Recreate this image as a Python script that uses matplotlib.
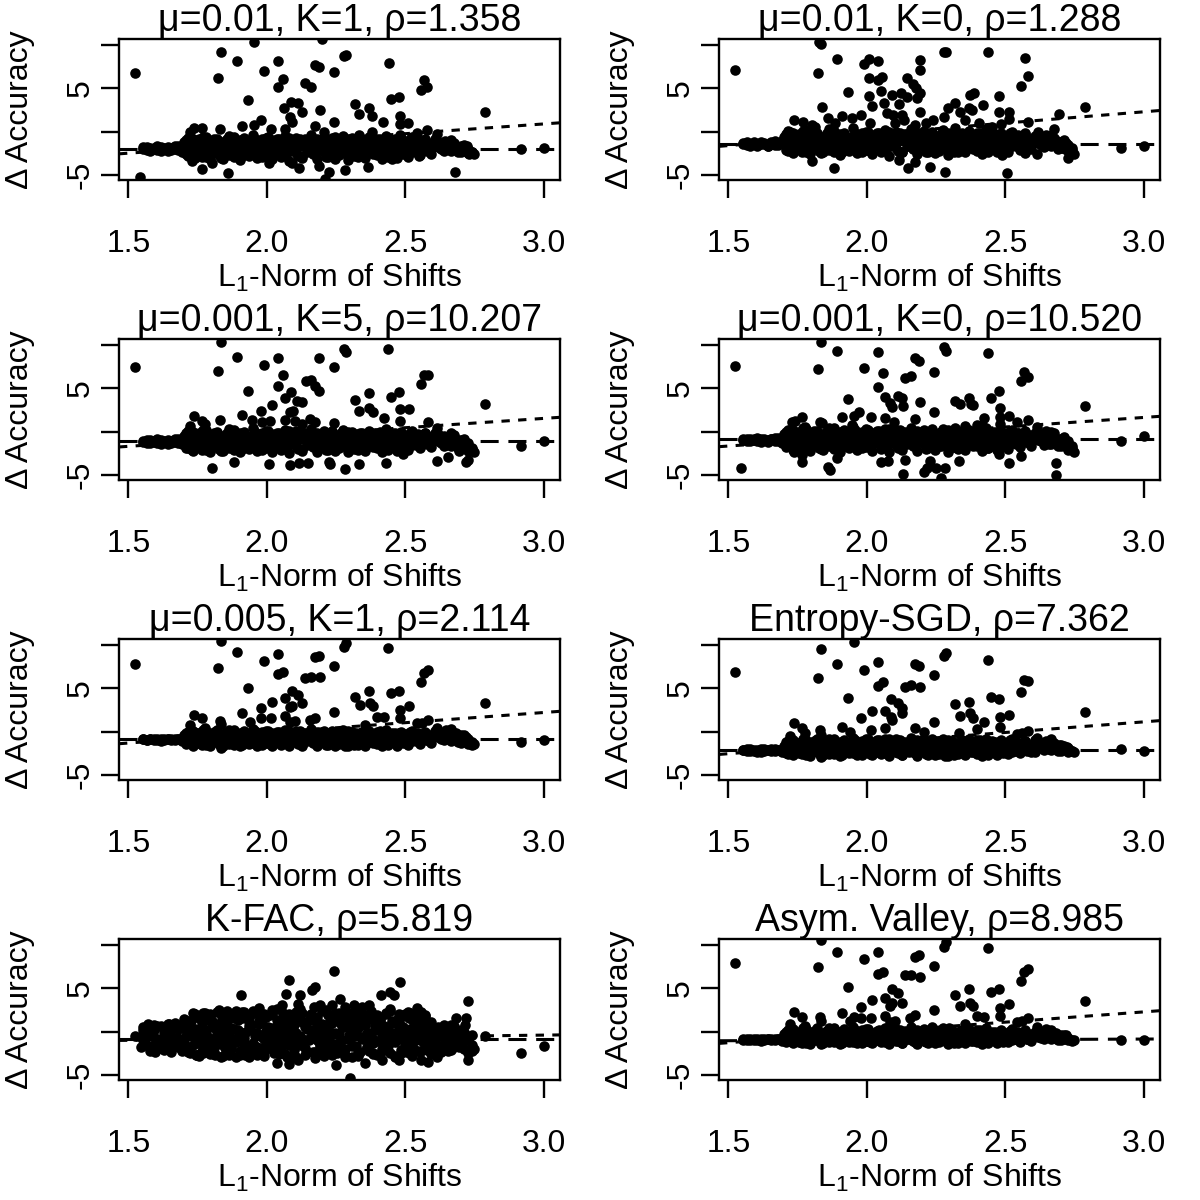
import matplotlib
matplotlib.use("Agg")
import matplotlib.pyplot as plt

plt.rcParams['font.family'] = ['Liberation Sans', 'DejaVu Sans']
plt.rcParams['mathtext.default'] = 'regular'
plt.rcParams['lines.scale_dashes'] = False

TITLES = ["μ=0.01, K=1, ρ=1.358", "μ=0.01, K=0, ρ=1.288",
          "μ=0.001, K=5, ρ=10.207", "μ=0.001, K=0, ρ=10.520",
          "μ=0.005, K=1, ρ=2.114", "Entropy-SGD, ρ=7.362",
          "K-FAC, ρ=5.819", "Asym. Valley, ρ=8.985"]
XTICKS = [1.5, 2.0, 2.5, 3.0]
XTICKLABELS = ['1.5', '2.0', '2.5', '3.0']
YTICKS = [-5, 0, 5, 10]
YTICKLABELS = ['-5', '', '5', '']
XLABEL = 'L$_1$-Norm of Shifts'
YLABEL = 'Δ Accuracy'

# x positions of the dense band of points (shared by all panels)
BAND_X = [1.553, 1.566, 1.579, 1.591, 1.604, 1.617, 1.629, 1.642, 1.655, 1.667, 1.680, 1.692,
          1.701, 1.709, 1.716, 1.724, 1.733, 1.740, 1.748, 1.755, 1.764, 1.771,
          1.779, 1.787, 1.794, 1.802, 1.810, 1.818, 1.826, 1.833, 1.841, 1.849,
          1.857, 1.864, 1.872, 1.880, 1.888, 1.895, 1.903, 1.911, 1.919, 1.926,
          1.934, 1.942, 1.950, 1.957, 1.965, 1.973, 1.981, 1.988, 1.996, 2.004,
          2.012, 2.019, 2.027, 2.035, 2.043, 2.050, 2.058, 2.066, 2.074, 2.081,
          2.089, 2.097, 2.105, 2.112, 2.120, 2.128, 2.136, 2.143, 2.151, 2.159,
          2.167, 2.174, 2.182, 2.190, 2.198, 2.205, 2.213, 2.221, 2.229, 2.236,
          2.244, 2.252, 2.260, 2.267, 2.275, 2.283, 2.291, 2.298, 2.306, 2.314,
          2.322, 2.329, 2.337, 2.345, 2.353, 2.360, 2.368, 2.376, 2.384, 2.391,
          2.399, 2.407, 2.415, 2.422, 2.430, 2.438, 2.446, 2.453, 2.461, 2.469,
          2.477, 2.484, 2.492, 2.500, 2.508, 2.515, 2.523, 2.531, 2.539, 2.546,
          2.554, 2.562, 2.570, 2.577, 2.585, 2.593,
          2.606, 2.618, 2.629, 2.641, 2.652, 2.664, 2.676, 2.688, 2.700, 2.712, 2.725, 2.740]

BAND_P1 = [-1.8, -2.1, -1.9, -2.0, -1.7, -2.2, -1.9, -1.8, -2.1, -2.0, -1.6, -2.3,
           -1.2, -2.6, -0.7, -1.9, -3.0, -1.5, -2.3, -0.9, -2.9, -1.7,
           -0.6, -2.4, -3.2, -1.3, -2.0, -0.8, -2.7, -1.6, -3.1, -1.1,
           -2.2, -0.5, -1.8, -2.9, -1.0, -2.5, -3.3, -1.4, -0.7, -2.1,
           -2.8, -1.2, -0.4, -1.9, -3.0, -2.4, -0.9, -1.6, -2.7, -0.6,
           -1.5, -3.1, -2.2, -0.8, -1.8, -2.9, -1.1, -0.5, -2.5, -3.4,
           -1.3, -2.0, -0.7, -2.8, -1.6, -3.0, -0.9, -2.3, -1.4, -0.4,
           -2.6, -1.8, -3.2, -1.0, -2.1, -0.6, -2.9, -1.5, -2.4, -0.8,
           -3.1, -1.7, -1.1, -2.5, -0.5, -2.0, -3.3, -1.3, -0.7, -2.7,
           -1.9, -2.9, -0.9, -1.5, -3.0, -2.2, -0.6, -1.8, -2.6, -1.2,
           -0.8, -2.4, -3.2, -1.6, -0.5, -2.8, -1.4, -2.1, -0.9, -3.0,
           -1.7, -0.7, -2.5, -1.2, -2.9, -2.0, -0.6, -1.5, -2.3, -1.0,
           -2.7, -1.4, -0.8, -2.1, -1.8, -2.6,
           -0.9, -1.8, -1.3, -2.2, -1.6, -1.0, -2.0, -2.4, -1.7, -2.1, -2.5, -2.3]
BAND_P1B = [-2.0, -1.8, -2.2, -1.9, -2.1, -1.8, -2.0, -2.2, -1.9, -1.7, -2.1, -1.9,
            -2.0, -1.0, -2.8, -1.4, -0.8, -2.2, -1.1, -2.6, -1.8, -0.6,
            -2.9, -1.2, -1.9, -2.5, -0.9, -1.6, -2.3, -3.0, -1.3, -2.0,
            -0.9, -2.7, -1.5, -0.6, -2.2, -1.7, -1.0, -2.8, -2.3, -1.3,
            -1.6, -2.1, -2.6, -0.8, -1.2, -2.0, -2.9, -1.4, -0.7, -2.4,
            -2.7, -1.0, -1.5, -2.3, -0.9, -2.0, -1.3, -2.6, -1.8, -0.7,
            -2.1, -1.1, -2.5, -1.7, -0.8, -2.8, -1.4, -1.9, -2.2, -1.0,
            -1.3, -2.6, -0.9, -2.0, -1.6, -2.4, -1.1, -2.9, -1.8, -0.7,
            -2.2, -1.4, -2.7, -1.0, -1.7, -2.5, -0.8, -2.1, -1.5, -2.8,
            -1.2, -2.3, -1.9, -0.9, -2.6, -1.6, -1.1, -2.4, -2.0, -1.3,
            -2.7, -0.8, -1.8, -2.2, -1.2, -2.9, -1.5, -1.0, -2.4, -1.9,
            -1.1, -2.2, -2.6, -1.4, -1.8, -0.9, -2.3, -1.6, -2.0, -1.2,
            -2.5, -1.7, -1.0, -2.2, -1.4, -2.0,
            -1.5, -1.2, -2.0, -1.4, -1.9, -2.2, -1.3, -1.8, -2.3, -1.5, -2.0, -2.4]

BAND_P2 = [-1.3, -1.5, -1.4, -1.2, -1.6, -1.4, -1.3, -1.7, -1.2, -1.5, -1.4, -1.1,
           -0.6, -2.1, 0.1, -1.4, -2.5, -0.9, -1.8, -0.3, -2.3, -1.1,
           0.2, -1.7, -2.6, -0.7, -1.3, -0.1, -2.2, -1.0, -2.4, -0.5,
           -1.6, 0.3, -1.2, -2.3, -0.4, -1.9, -2.7, -0.8, -0.1, -1.5,
           -2.2, -0.6, 0.4, -1.3, -2.5, -1.8, -0.2, -1.0, -2.1, 0.0,
           -0.9, -2.6, -1.6, -0.2, -1.2, -2.3, -0.5, 0.2, -1.9, -2.8,
           -0.7, -1.4, 0.0, -2.2, -1.0, -2.4, -0.3, -1.7, -0.8, 0.3,
           -2.0, -1.2, -2.6, -0.4, -1.5, 0.1, -2.3, -0.9, -1.8, -0.2,
           -2.5, -1.1, -0.5, -1.9, 0.2, -1.4, -2.7, -0.7, -0.1, -2.1,
           -1.3, -2.3, -0.3, -0.9, -2.4, -1.6, 0.1, -1.2, -2.0, -0.6,
           -0.2, -1.8, -2.6, -1.0, 0.3, -2.2, -0.8, -1.5, -0.3, -2.4,
           -1.1, -0.1, -1.9, -0.6, -2.3, -1.4, 0.0, -0.9, -1.7, -0.4,
           -2.1, -0.8, -0.2, -1.5, -1.2, -2.0,
           -0.5, -1.3, -0.9, -1.8, -1.1, -0.4, -1.5, -2.0, -1.2, -1.6, -2.2, -1.9]
BAND_P2B = [-1.4, -1.2, -1.6, -1.3, -1.5, -1.2, -1.4, -1.6, -1.3, -1.1, -1.5, -1.3,
            -1.3, -0.3, -2.2, -0.8, -0.1, -1.6, -0.4, -2.0, -1.2, 0.1,
            -2.4, -0.6, -1.4, -1.9, -0.2, -1.0, -1.7, -2.5, -0.7, -1.4,
            -0.2, -2.1, -0.9, 0.1, -1.6, -1.1, -0.3, -2.3, -1.8, -0.6,
            -1.0, -1.5, -2.0, -0.1, -0.5, -1.3, -2.4, -0.8, 0.0, -1.8,
            -2.2, -0.4, -0.9, -1.7, -0.2, -1.4, -0.6, -2.0, -1.2, 0.0,
            -1.5, -0.4, -1.9, -1.1, -0.1, -2.3, -0.8, -1.3, -1.6, -0.3,
            -0.6, -2.0, -0.2, -1.4, -1.0, -1.8, -0.4, -2.4, -1.2, 0.0,
            -1.6, -0.8, -2.2, -0.3, -1.1, -1.9, -0.1, -1.5, -0.9, -2.3,
            -0.5, -1.7, -1.3, -0.2, -2.0, -1.0, -0.4, -1.8, -1.4, -0.6,
            -2.2, -0.1, -1.2, -1.6, -0.5, -2.4, -0.9, -0.3, -1.8, -1.3,
            -0.4, -1.6, -2.0, -0.8, -1.2, -0.2, -1.7, -1.0, -1.4, -0.5,
            -1.9, -1.1, -0.3, -1.6, -0.8, -1.4,
            -0.9, -0.6, -1.5, -0.8, -1.3, -1.7, -0.7, -1.2, -1.9, -1.0, -1.5, -2.1]

BAND_P3 = [-1.1, -1.3, -1.0, -1.2, -0.9, -1.4, -1.1, -1.0, -1.3, -1.2, -0.8, -1.4,
           -0.5, -1.9, 0.1, -1.2, -2.2, -0.8, -1.6, -0.2, -2.0, -1.0,
           0.2, -1.5, -2.3, -0.6, -1.1, 0.0, -2.0, -0.9, -2.2, -0.4,
           -1.4, 0.3, -1.0, -2.1, -0.3, -1.7, -2.4, -0.7, 0.0, -1.3,
           -2.0, -0.5, 0.4, -1.2, -2.2, -1.6, -0.1, -0.9, -1.9, 0.1,
           -0.8, -2.3, -1.4, -0.1, -1.1, -2.1, -0.4, 0.2, -1.7, -2.5,
           -0.6, -1.3, 0.1, -2.0, -0.9, -2.2, -0.2, -1.5, -0.7, 0.3,
           -1.8, -1.0, -2.3, -0.3, -1.4, 0.1, -2.1, -0.8, -1.6, -0.1,
           -2.2, -1.0, -0.4, -1.7, 0.2, -1.2, -2.4, -0.6, 0.0, -1.9,
           -1.2, -2.1, -0.2, -0.8, -2.2, -1.4, 0.1, -1.1, -1.8, -0.5,
           -0.1, -1.6, -2.3, -0.9, 0.3, -2.0, -0.7, -1.3, -0.2, -2.2,
           -1.0, 0.0, -1.7, -0.5, -2.1, -1.2, 0.1, -0.8, -1.5, -0.3,
           -1.9, -0.7, -0.1, -1.3, -1.0, -1.8,
           -0.2, -1.1, -0.6, -1.7, -0.9, -0.1, -1.4, -1.9, -1.0, -1.5, -2.2, -2.0]
BAND_P3B = [-1.2, -1.0, -1.3, -1.1, -1.3, -1.0, -1.2, -1.4, -1.1, -0.9, -1.3, -1.1,
            -1.1, -0.2, -1.9, -0.6, 0.0, -1.4, -0.3, -1.8, -1.0, 0.2,
            -2.1, -0.5, -1.2, -1.7, -0.1, -0.8, -1.5, -2.2, -0.6, -1.2,
            -0.1, -1.9, -0.7, 0.2, -1.4, -0.9, -0.2, -2.0, -1.6, -0.5,
            -0.8, -1.3, -1.8, 0.0, -0.4, -1.1, -2.1, -0.6, 0.1, -1.6,
            -1.9, -0.3, -0.7, -1.5, -0.1, -1.2, -0.5, -1.8, -1.0, 0.1,
            -1.3, -0.3, -1.7, -0.9, 0.0, -2.0, -0.6, -1.1, -1.4, -0.2,
            -0.5, -1.8, -0.1, -1.2, -0.8, -1.6, -0.3, -2.1, -1.0, 0.1,
            -1.4, -0.6, -1.9, -0.2, -0.9, -1.7, 0.0, -1.3, -0.7, -2.0,
            -0.4, -1.5, -1.1, -0.1, -1.8, -0.8, -0.3, -1.6, -1.2, -0.5,
            -1.9, 0.0, -1.0, -1.4, -0.4, -2.1, -0.7, -0.2, -1.6, -1.1,
            -0.3, -1.4, -1.8, -0.6, -1.0, -0.1, -1.5, -0.8, -1.2, -0.4,
            -1.7, -0.9, -0.2, -1.4, -0.6, -1.2,
            -0.6, -0.3, -1.3, -0.5, -1.1, -1.6, -0.4, -1.0, -1.8, -0.8, -1.3, -1.9]

BAND_P4 = [-0.9, -1.1, -0.8, -1.0, -0.7, -1.2, -0.9, -1.0, -0.8, -1.1, -0.7, -1.3,
           -0.3, -1.8, 0.2, -1.0, -2.1, -0.6, -1.5, 0.0, -1.9, -0.8,
           0.3, -1.3, -2.2, -0.4, -1.0, 0.1, -1.9, -0.7, -2.1, -0.2,
           -1.2, 0.4, -0.8, -2.0, -0.1, -1.6, -2.3, -0.5, 0.2, -1.1,
           -1.9, -0.3, 0.5, -1.0, -2.1, -1.5, 0.0, -0.7, -1.8, 0.2,
           -0.6, -2.2, -1.2, 0.1, -0.9, -2.0, -0.2, 0.3, -1.6, -2.4,
           -0.4, -1.1, 0.2, -1.9, -0.7, -2.1, 0.0, -1.4, -0.5, 0.4,
           -1.7, -0.8, -2.2, -0.1, -1.2, 0.2, -2.0, -0.6, -1.5, 0.1,
           -2.1, -0.9, -0.2, -1.6, 0.3, -1.0, -2.3, -0.4, 0.1, -1.8,
           -1.0, -2.0, 0.0, -0.6, -2.1, -1.3, 0.2, -0.9, -1.7, -0.3,
           0.1, -1.5, -2.2, -0.7, 0.4, -1.9, -0.5, -1.2, 0.0, -2.1,
           -0.8, 0.1, -1.6, -0.3, -2.0, -1.1, 0.2, -0.6, -1.4, -0.1,
           -1.8, -0.5, 0.1, -1.2, -0.9, -1.7,
           -0.1, -1.0, -0.5, -1.5, -0.8, 0.0, -1.2, -1.7, -0.9, -1.3, -2.0, -1.9]
BAND_P4B = [-1.0, -0.8, -1.1, -0.9, -1.1, -0.8, -1.0, -1.2, -0.9, -0.7, -1.1, -0.9,
            -0.9, 0.0, -1.7, -0.4, 0.2, -1.2, -0.1, -1.6, -0.8, 0.4,
            -1.9, -0.3, -1.0, -1.5, 0.1, -0.6, -1.3, -2.0, -0.4, -1.0,
            0.1, -1.7, -0.5, 0.4, -1.2, -0.7, 0.0, -1.8, -1.4, -0.3,
            -0.6, -1.1, -1.6, 0.2, -0.2, -0.9, -1.9, -0.4, 0.3, -1.4,
            -1.7, -0.1, -0.5, -1.3, 0.1, -1.0, -0.3, -1.6, -0.8, 0.3,
            -1.1, -0.1, -1.5, -0.7, 0.2, -1.8, -0.4, -0.9, -1.2, 0.0,
            -0.3, -1.6, 0.1, -1.0, -0.6, -1.4, -0.1, -1.9, -0.8, 0.3,
            -1.2, -0.4, -1.7, 0.0, -0.7, -1.5, 0.2, -1.1, -0.5, -1.8,
            -0.2, -1.3, -0.9, 0.1, -1.6, -0.6, -0.1, -1.4, -1.0, -0.3,
            -1.7, 0.2, -0.8, -1.2, -0.2, -1.9, -0.5, 0.0, -1.4, -0.9,
            -0.1, -1.2, -1.6, -0.4, -0.8, 0.1, -1.3, -0.6, -1.0, -0.2,
            -1.5, -0.7, 0.0, -1.2, -0.4, -1.0,
            -0.4, -0.1, -1.1, -0.3, -0.9, -1.4, -0.2, -0.8, -1.6, -0.6, -1.1, -1.7]

BAND_P5 = [-0.9, -1.0, -0.8, -1.0, -0.9, -1.1, -0.8, -0.9, -1.0, -0.8, -0.9, -1.1,
           -0.4, -1.4, 0.0, -0.9, -1.6, -0.6, -1.2, -0.1, -1.5, -0.7,
           0.1, -1.1, -1.7, -0.3, -0.8, 0.2, -1.4, -0.6, -1.6, -0.2,
           -1.0, 0.2, -0.7, -1.5, -0.1, -1.2, -1.7, -0.4, 0.1, -0.9,
           -1.4, -0.3, 0.3, -0.8, -1.6, -1.1, 0.0, -0.5, -1.3, 0.1,
           -0.6, -1.6, -1.0, 0.0, -0.7, -1.5, -0.2, 0.2, -1.2, -1.7,
           -0.4, -0.9, 0.1, -1.4, -0.6, -1.6, -0.1, -1.1, -0.5, 0.3,
           -1.3, -0.7, -1.7, -0.1, -1.0, 0.1, -1.5, -0.5, -1.2, 0.0,
           -1.6, -0.8, -0.2, -1.2, 0.2, -0.9, -1.7, -0.4, 0.0, -1.4,
           -0.8, -1.5, -0.1, -0.5, -1.6, -1.0, 0.1, -0.7, -1.3, -0.3,
           0.0, -1.1, -1.7, -0.6, 0.2, -1.4, -0.4, -1.0, -0.1, -1.6,
           -0.7, 0.0, -1.2, -0.3, -1.5, -0.9, 0.1, -0.5, -1.1, -0.2,
           -1.4, -0.4, 0.0, -1.0, -0.7, -1.3,
           0.1, -0.6, -0.2, -1.0, -0.5, 0.3, -0.8, -1.2, -0.4, -0.9, -1.4, -1.5]
BAND_P5B = [-0.9, -1.0, -0.9, -0.8, -1.0, -0.9, -1.0, -0.8, -0.9, -1.0, -0.9, -1.0,
            -0.8, -0.1, -1.3, -0.4, 0.1, -1.0, -0.2, -1.3, -0.7, 0.2,
            -1.5, -0.3, -0.9, -1.2, 0.0, -0.6, -1.1, -1.6, -0.4, -0.9,
            0.0, -1.4, -0.5, 0.2, -1.0, -0.7, -0.1, -1.5, -1.2, -0.3,
            -0.6, -0.9, -1.3, 0.1, -0.2, -0.8, -1.5, -0.4, 0.1, -1.2,
            -1.4, -0.2, -0.5, -1.1, 0.0, -0.8, -0.3, -1.3, -0.7, 0.1,
            -1.0, -0.2, -1.2, -0.6, 0.1, -1.5, -0.4, -0.8, -1.0, -0.1,
            -0.3, -1.3, 0.0, -0.9, -0.5, -1.2, -0.2, -1.5, -0.7, 0.1,
            -1.0, -0.4, -1.4, -0.1, -0.6, -1.2, 0.1, -0.9, -0.5, -1.5,
            -0.2, -1.1, -0.8, 0.0, -1.3, -0.6, -0.2, -1.2, -0.9, -0.3,
            -1.4, 0.1, -0.7, -1.0, -0.3, -1.5, -0.5, -0.1, -1.2, -0.8,
            -0.2, -1.0, -1.3, -0.4, -0.7, 0.0, -1.1, -0.5, -0.9, -0.3,
            -1.2, -0.6, -0.1, -1.0, -0.4, -0.8,
            -0.3, 0.0, -0.8, -0.2, -0.7, -1.1, -0.1, -0.6, -1.3, -0.4, -0.8, -1.2]

BAND_P6 = [-2.1, -2.2, -2.0, -2.2, -2.1, -2.3, -2.0, -2.1, -2.2, -2.0, -2.1, -2.3,
           -1.6, -2.5, -1.1, -2.1, -2.7, -1.8, -2.3, -1.3, -2.6, -1.9,
           -1.0, -2.2, -2.8, -1.5, -2.0, -0.9, -2.5, -1.7, -2.7, -1.2,
           -2.1, -0.8, -1.8, -2.6, -1.2, -2.3, -2.8, -1.5, -1.0, -2.0,
           -2.5, -1.4, -0.7, -1.9, -2.7, -2.2, -1.1, -1.6, -2.4, -0.9,
           -1.7, -2.7, -2.1, -1.0, -1.8, -2.6, -1.3, -0.8, -2.3, -2.8,
           -1.5, -2.0, -0.9, -2.5, -1.7, -2.7, -1.2, -2.2, -1.6, -0.7,
           -2.4, -1.8, -2.8, -1.1, -2.1, -0.9, -2.6, -1.6, -2.3, -1.0,
           -2.7, -1.9, -1.3, -2.3, -0.8, -2.0, -2.8, -1.5, -1.1, -2.5,
           -1.9, -2.6, -1.2, -1.6, -2.7, -2.1, -0.9, -1.8, -2.4, -1.4,
           -1.0, -2.2, -2.8, -1.7, -0.8, -2.5, -1.5, -2.1, -1.2, -2.7,
           -1.8, -1.0, -2.3, -1.4, -2.6, -2.0, -0.9, -1.6, -2.2, -1.3,
           -2.5, -1.5, -1.1, -2.1, -1.8, -2.4,
           -1.0, -1.7, -1.3, -2.1, -1.6, -0.9, -1.9, -2.2, -1.5, -2.0, -2.3, -2.2]
BAND_P6B = [-2.1, -2.0, -2.2, -2.1, -2.3, -2.0, -2.2, -2.1, -2.0, -2.2, -2.1, -2.2,
            -2.0, -1.2, -2.6, -1.6, -1.0, -2.2, -1.3, -2.5, -1.9, -0.9,
            -2.7, -1.4, -2.0, -2.4, -1.1, -1.7, -2.3, -2.8, -1.5, -2.1,
            -1.1, -2.6, -1.7, -0.9, -2.2, -1.8, -1.2, -2.7, -2.4, -1.4,
            -1.7, -2.1, -2.5, -1.0, -1.3, -2.0, -2.7, -1.5, -0.9, -2.4,
            -2.6, -1.2, -1.6, -2.3, -1.0, -2.1, -1.4, -2.5, -1.9, -0.9,
            -2.2, -1.3, -2.4, -1.8, -1.0, -2.7, -1.5, -2.0, -2.3, -1.2,
            -1.4, -2.5, -1.0, -2.1, -1.7, -2.4, -1.3, -2.7, -1.9, -0.9,
            -2.2, -1.5, -2.6, -1.1, -1.8, -2.4, -1.0, -2.1, -1.6, -2.7,
            -1.3, -2.3, -2.0, -1.0, -2.5, -1.7, -1.2, -2.4, -2.1, -1.4,
            -2.6, -1.0, -1.9, -2.2, -1.3, -2.7, -1.6, -1.1, -2.4, -2.0,
            -1.2, -2.2, -2.5, -1.5, -1.9, -1.0, -2.3, -1.7, -2.1, -1.3,
            -2.4, -1.8, -1.1, -2.2, -1.5, -2.0,
            -1.4, -1.2, -1.9, -1.5, -1.8, -2.1, -1.3, -1.7, -2.2, -1.6, -1.9, -2.2]

BAND_P7A = [0.5, -1.5, -0.3, 0.8, -2.0, -0.8, 0.2, -1.2, -0.5, 1.0, -1.8, 0.4,
            1.5, -0.5, -2.4, 0.6, -1.5, 2.0, -0.2, -2.8, 1.0, -1.1,
            0.2, -2.0, 1.8, -0.8, -2.6, 0.9, -1.4, 2.2, -0.3, -1.9,
            1.2, -2.7, 0.4, -1.0, 2.4, -0.6, -2.2, 1.6, -1.6, 0.0,
            -2.9, 0.8, -1.3, 2.1, -0.1, -2.4, 1.3, -0.9, -2.0, 0.5,
            1.9, -1.7, -0.4, 2.6, -2.6, 0.7, -1.2, 1.4, -2.9, -0.2,
            0.9, -2.1, 2.3, -0.7, -1.5, 1.1, -2.7, 0.3, -1.0, 2.0,
            -0.5, -2.3, 1.7, -1.4, 0.1, -2.8, 2.5, -0.8, -1.8, 1.0,
            -0.3, -2.5, 1.5, -1.1, 0.6, -2.0, 2.2, -0.6, -2.9, 1.2,
            -1.6, 0.4, -2.4, 1.8, -0.9, -0.1, -2.2, 2.4, -1.3, 0.8,
            -2.7, 1.4, -0.4, -1.9, 2.1, 0.2, -2.5, 1.0, -1.2, -0.2,
            1.7, -2.1, 0.5, -1.5, 2.3, -0.7, -2.8, 1.1, -1.0, 0.0,
            -2.3, 1.6, -0.5, -1.7, 0.9, -2.6,
            0.3, -1.6, -0.5, 0.8, -2.2, -0.9, 0.1, -1.3, -0.3, -2.0, -0.8, -1.5]
BAND_P7B = [-1.0, 0.1, -2.2, -0.6, 0.6, -1.6, -0.2, 0.9, -2.4, -0.9, 0.3, -1.4,
            -1.2, 1.0, -0.2, -2.0, 2.2, 0.3, -2.7, 1.6, -0.8, -1.6,
            2.0, -0.6, -1.4, 1.2, -2.3, 0.0, 2.5, -1.1, -2.8, 0.7,
            -0.4, 1.9, -1.8, 0.3, -2.9, 1.4, -0.9, -0.1, 2.3, -2.3,
            1.1, -1.6, 2.4, -0.5, -2.7, 0.9, -1.9, 2.0, 0.1, -1.3,
            -0.8, 0.4, -2.5, 1.3, -1.0, -2.0, 2.2, -0.3, 0.8, -1.5,
            -2.8, 1.7, -0.2, -1.3, 2.6, -0.9, 0.5, -2.4, 1.4, -0.6,
            1.3, 0.3, -1.0, -2.6, 0.9, -0.4, -1.6, 1.9, 0.0, -2.7,
            2.1, -1.4, -0.1, 0.9, -2.3, 1.6, -0.9, 0.4, -1.7, -0.2,
            1.2, -2.8, 2.3, -0.6, 0.8, -1.9, 1.5, -0.3, -2.5, 0.2,
            1.9, -1.1, -2.2, 0.6, -0.7, -1.6, 2.4, -0.1, -2.9, 1.3,
            -0.8, 0.7, -2.4, 2.0, -1.3, 0.3, 1.5, -2.0, -0.4, 2.2,
            0.4, -1.2, 1.9, -2.1, 0.2, -0.9,
            -1.0, 0.5, -2.4, -0.2, -1.2, 0.6, -1.8, -0.6, 0.2, -1.1, -2.5, -0.4]
BAND_P7C = [-0.4, 0.7, -1.9, 0.2, -1.1, 0.6, -2.1, -0.1, -1.6, 0.5, -0.7, -2.2,
            0.4, -1.8, 1.2, -2.5, -0.5, 1.8, -1.3, 0.0, -2.2, 2.1,
            -0.9, 1.4, -2.6, 0.5, -1.7, 2.3, -0.2, -2.9, 1.0, -1.0,
            2.4, -0.4, -2.0, 1.6, -1.2, 0.2, -2.7, 1.9, -0.7, -1.5,
            0.7, -2.4, 2.2, -0.1, -1.8, 1.2, -0.6, -2.8, 1.7, 0.3,
            -1.1, 2.5, -2.2, 0.6, -0.3, -1.6, 1.5, -2.6, 0.1, 2.0,
            -1.4, 0.8, -2.9, 1.3, -0.5, 2.2, -1.9, 0.4, -0.9, 1.8,
            -2.3, 0.0, 1.1, -1.7, 2.4, -0.7, -2.5, 0.9, -1.2, 1.6,
            -0.2, -2.1, 2.1, -1.0, 0.5, -2.7, 1.4, -0.4, -1.5, 2.3,
            0.2, -2.4, 1.0, -0.8, 1.9, -1.8, -0.1, 2.2, -2.6, 0.7,
            -1.1, 1.5, -2.0, 0.3, 2.0, -1.4, -0.6, 1.2, -2.8, 0.9,
            -0.3, 1.7, -2.3, 0.1, -1.0, 2.1, -1.9, 0.6, -0.7, 1.3,
            -2.2, 0.4, 1.8, -1.3, -0.2, 1.1,
            -0.6, -1.9, 0.4, -1.4, -0.1, -2.1, 0.7, -1.0, -1.7, 0.0, -0.9, -2.2]

BAND_P8 = [-0.9, -1.0, -0.8, -1.0, -0.9, -1.1, -0.8, -0.9, -1.0, -0.9, -0.8, -1.1,
           -0.3, -1.2, 0.2, -0.8, -1.3, -0.5, -1.0, 0.0, -1.3, -0.6,
           0.3, -0.9, -1.4, -0.2, -0.7, 0.4, -1.1, -0.4, -1.3, 0.0,
           -0.8, 0.4, -0.5, -1.2, 0.1, -1.0, -1.4, -0.3, 0.3, -0.7,
           -1.2, -0.1, 0.5, -0.6, -1.3, -0.9, 0.2, -0.4, -1.1, 0.3,
           -0.5, -1.3, -0.8, 0.1, -0.6, -1.2, 0.0, 0.4, -1.0, -1.4,
           -0.2, -0.7, 0.3, -1.1, -0.4, -1.3, 0.1, -0.9, -0.3, 0.5,
           -1.1, -0.5, -1.4, 0.0, -0.8, 0.3, -1.2, -0.4, -1.0, 0.2,
           -1.3, -0.6, 0.0, -1.0, 0.4, -0.7, -1.4, -0.2, 0.2, -1.2,
           -0.6, -1.3, 0.1, -0.3, -1.3, -0.8, 0.3, -0.5, -1.1, -0.1,
           0.2, -0.9, -1.4, -0.4, 0.4, -1.2, -0.2, -0.8, 0.0, -1.3,
           -0.5, 0.2, -1.0, -0.1, -1.2, -0.7, 0.3, -0.3, -0.9, 0.0,
           -1.2, -0.3, 0.2, -0.8, -0.5, -1.1,
           0.0, -0.6, -0.3, -0.9, -0.5, 0.2, -0.7, -1.0, -0.4, -0.8, -1.0, -1.1]
BAND_P8B = [-1.0, -0.9, -1.0, -0.8, -1.0, -0.9, -1.0, -0.9, -0.8, -1.0, -0.9, -1.0,
            -0.7, 0.0, -1.1, -0.3, 0.3, -0.9, -0.1, -1.2, -0.6, 0.4,
            -1.3, -0.2, -0.8, -1.1, 0.1, -0.5, -1.0, -1.4, -0.3, -0.8,
            0.1, -1.2, -0.4, 0.4, -0.9, -0.6, 0.0, -1.3, -1.0, -0.2,
            -0.5, -0.8, -1.2, 0.2, -0.1, -0.7, -1.3, -0.3, 0.3, -1.1,
            -1.2, -0.1, -0.4, -1.0, 0.2, -0.7, -0.2, -1.2, -0.6, 0.3,
            -0.9, -0.1, -1.1, -0.5, 0.2, -1.3, -0.3, -0.7, -0.9, 0.0,
            -0.2, -1.2, 0.2, -0.8, -0.4, -1.1, -0.1, -1.3, -0.6, 0.3,
            -0.9, -0.3, -1.2, 0.1, -0.5, -1.1, 0.2, -0.8, -0.4, -1.3,
            -0.1, -1.0, -0.7, 0.2, -1.2, -0.5, -0.1, -1.1, -0.8, -0.2,
            -1.2, 0.2, -0.6, -0.9, -0.2, -1.3, -0.4, 0.0, -1.1, -0.7,
            -0.1, -0.9, -1.2, -0.3, -0.6, 0.1, -1.0, -0.4, -0.8, -0.2,
            -1.1, -0.5, 0.0, -0.9, -0.3, -0.7,
            -0.3, -0.1, -0.7, -0.2, -0.6, -0.9, -0.1, -0.5, -1.0, -0.4, -0.7, -1.0]

# scattered (outlying) points, (L1-norm, delta accuracy)
OUT_P1 = [(1.524, 6.73), (1.542, -5.19), (1.835, 9.15), (1.823, 6.23), (1.892, 8.15), (1.955, 10.3),
          (1.930, 3.65), (1.989, 7.0), (2.039, 8.15), (2.057, 6.04), (2.039, 5.19), (2.088, 3.46),
          (2.112, 3.27), (2.063, 2.69), (2.127, 2.31), (2.084, 1.73), (2.09, 1.15), (2.175, 7.69),
          (2.187, 7.5), (2.139, 5.58), (2.16, 5.19), (2.19, 2.5), (2.241, 6.85), (2.241, 1.08),
          (2.277, 8.77), (2.286, 8.85), (2.317, 3.15), (2.334, 2.0), (2.37, 2.77), (2.38, 1.81),
          (2.42, 1.08), (2.44, 7.88), (2.449, 3.77), (2.476, 3.96), (2.48, 1.85), (2.48, 0.85),
          (2.51, 0.96), (2.558, 4.81), (2.566, 5.96), (2.578, 5.12), (2.578, 0.19), (2.787, 2.31),
          (2.68, -4.69), (1.861, -4.73), (2.114, -4.15), (2.223, -4.69), (2.208, -5.5), (2.283, -4.42),
          (2.365, -4.04), (2.006, -3.65), (2.09, -3.65), (2.189, -3.96), (1.765, -4.31), (1.729, -3.38),
          (1.723, -0.08), (1.735, 0.46), (1.767, 0.46), (1.829, 0.31), (1.910, 0.69), (1.952, 0.77),
          (1.978, 1.35), (2.016, 0.27), (2.066, 0.27), (2.175, 0.65), (2.205, -0.08), (2.247, -0.58),
          (2.331, -0.38), (2.380, -0.08), (2.482, -0.38), (2.542, -0.19), (2.919, -2.04), (3.002, -1.92),
          (2.614, -0.31), (2.644, -1.08), (2.662, -1.92), (2.692, -1.92), (2.722, -1.65), (2.728, -2.62),
          (2.747, -2.62), (1.74, -3.0), (1.80, -3.6), (2.45, -3.2), (2.55, -2.8), (2.20, 10.7)]

OUT_P2 = [(1.524, 7.12), (1.835, 10.08), (1.826, 10.4), (1.823, 6.73), (1.892, 8.38), (1.931, 4.62),
          (1.988, 7.77), (2.006, 8.38), (2.039, 8.15), (2.006, 6.15), (2.039, 5.96), (2.054, 6.35),
          (2.008, 4.15), (2.052, 4.69), (1.837, 2.88), (2.018, 2.96), (2.06, 3.35), (2.09, 4.23),
          (2.123, 4.42), (2.114, 3.15), (2.145, 3.96), (2.145, 6.23), (2.166, 5.46), (2.176, 5.08),
          (2.19, 4.42), (2.18, 3.85), (2.19, 8.27), (2.19, 7.12), (2.072, 2.12), (2.094, 1.92),
          (2.127, 1.92), (2.133, 1.35), (2.19, 2.31), (2.213, 0.96), (2.24, 1.35), (2.277, 9.23),
          (2.287, 9.23), (2.292, 2.69), (2.317, 3.27), (2.335, 2.31), (2.367, 2.77), (2.38, 2.5),
          (2.373, 4.23), (2.386, 4.5), (2.277, 1.73), (2.354, 1.35), (2.419, 3.08), (2.437, 9.23),
          (2.476, 4.15), (2.478, 2.23), (2.512, 2.23), (2.512, 1.46), (2.485, 0.85), (2.558, 5.31),
          (2.572, 8.46), (2.58, 6.46), (2.58, 1.08), (2.675, 0.31), (2.693, 2.04), (2.787, 2.88),
          (2.919, -1.92), (3.002, -1.62), (1.801, -3.38), (1.88, -4.15), (2.114, -3.27), (2.148, -4.15),
          (2.173, -3.54), (2.229, -4.04), (2.281, -4.69), (2.506, -4.81), (2.489, -2.69), (2.572, -2.5),
          (2.614, -2.58), (2.726, -3.08), (2.747, -2.58), (2.716, -2.0), (2.618, 0.0), (2.645, -0.38),
          (2.651, -1.54), (2.687, -1.08), (2.717, -1.35), (1.735, 1.35), (1.771, 1.08), (1.801, 0.77),
          (1.861, 1.54), (1.910, 1.85), (1.946, 1.54), (1.978, 1.92), (2.012, 0.96), (1.723, 0.0),
          (1.813, 0.58), (1.886, 0.96), (2.102, 0.96), (2.175, 0.77), (2.319, 0.38), (2.404, 0.96),
          (2.452, 0.58)]

OUT_P3 = [(1.524, 7.5), (1.835, 10.31), (1.823, 7.0), (1.892, 8.65), (1.989, 7.69), (2.039, 8.54),
          (2.057, 6.54), (2.039, 5.31), (1.931, 4.69), (2.088, 4.54), (2.064, 3.85), (2.108, 3.58),
          (2.127, 3.46), (2.018, 3.08), (1.978, 2.38), (1.910, 1.92), (2.082, 2.23), (2.093, 2.38),
          (2.066, 1.35), (2.102, 1.23), (2.127, 0.85), (2.141, 5.88), (2.160, 5.96), (2.175, 5.31),
          (2.189, 4.69), (2.187, 8.46), (2.241, 7.5), (2.277, 9.54), (2.286, 9.15), (2.154, 1.46),
          (2.172, 1.08), (2.241, 0.96), (2.317, 3.65), (2.334, 2.38), (2.370, 4.42), (2.370, 2.69),
          (2.382, 2.23), (2.422, 1.62), (2.437, 9.54), (2.449, 3.96), (2.476, 4.54), (2.48, 2.62),
          (2.512, 2.62), (2.482, 1.23), (2.558, 5.5), (2.566, 6.54), (2.581, 6.54), (2.581, 1.15),
          (2.614, 0.46), (2.787, 3.19), (1.736, 1.85), (1.767, 1.23), (1.724, 0.69), (1.829, 1.35),
          (1.775, 0.85), (1.946, 1.35), (1.982, 1.08), (2.012, 1.23),
          (1.801, -4.15), (1.880, -3.46), (2.006, -3.73), (2.084, -3.85), (2.114, -3.65), (2.148, -3.65),
          (2.223, -3.46), (2.229, -3.77), (2.283, -4.31), (2.331, -3.77), (2.430, -3.58), (2.492, -2.58),
          (2.614, -3.38), (2.654, -2.88), (2.717, -3.54), (2.727, -3.27), (2.747, -2.31), (2.693, -2.23),
          (2.648, -1.54), (2.678, -1.08), (2.705, -1.35), (2.919, -1.65), (3.002, -1.04), (1.729, -2.12),
          (1.765, -2.12), (1.729, -1.54)]

OUT_P4 = [(1.524, 7.62), (1.835, 10.31), (1.823, 7.23), (1.892, 9.35), (1.989, 7.31), (2.039, 9.23),
          (2.057, 6.73), (2.039, 5.12), (1.931, 3.77), (2.064, 3.96), (2.112, 4.15), (2.127, 3.85),
          (2.082, 3.27), (2.090, 2.81), (2.129, 2.96), (2.175, 8.54), (2.187, 8.15), (2.139, 6.15),
          (2.160, 6.42), (2.241, 6.85), (2.190, 3.38), (2.241, 2.23), (2.277, 9.81), (2.286, 9.35),
          (2.317, 3.58), (2.335, 3.15), (2.370, 3.85), (2.377, 3.15), (2.382, 3.08), (2.437, 9.04),
          (2.449, 3.92), (2.476, 4.73), (2.48, 2.77), (2.512, 1.85), (2.482, 1.73), (2.558, 5.88),
          (2.566, 6.85), (2.581, 6.35), (2.581, 1.35), (2.542, 1.08), (2.614, 0.58), (2.648, 0.08),
          (2.787, 2.96), (2.422, 1.62), (2.416, 0.77), (1.973, 2.31), (1.910, 1.73), (1.954, 1.85),
          (2.014, 1.73), (2.066, 1.62), (2.096, 1.08), (2.175, 1.46), (1.765, 1.73), (1.729, 1.08),
          (1.739, 1.23), (1.777, 0.58), (1.829, 1.08), (1.837, 0.96), (1.946, 0.77), (2.319, 0.46),
          (2.355, 0.69), (2.398, 0.77), (2.482, 0.85),
          (1.545, -4.15), (1.765, -3.46), (1.861, -4.04), (1.867, -4.42), (1.892, -3.08), (2.051, -3.54),
          (2.076, -3.38), (2.130, -4.92), (2.139, -3.27), (2.205, -4.62), (2.217, -4.15), (2.229, -3.38),
          (2.251, -4.23), (2.269, -5.31), (2.283, -4.15), (2.331, -3.38), (2.476, -2.62), (2.514, -3.58),
          (2.558, -2.77), (2.681, -3.65), (2.681, -5.0), (2.727, -2.12), (2.747, -2.31), (2.693, -1.54),
          (2.657, -1.46), (2.919, -1.08), (3.002, -0.5), (1.735, -2.31), (1.765, -2.69)]

OUT_P5 = [(1.524, 7.77), (1.835, 10.46), (1.823, 7.31), (1.892, 9.15), (1.989, 8.15), (2.039, 8.96),
          (2.039, 6.62), (2.057, 6.85), (1.931, 5.0), (2.090, 4.69), (2.112, 4.23), (2.127, 3.35),
          (2.064, 3.85), (2.018, 3.46), (2.082, 2.88), (2.090, 3.0), (1.978, 2.69), (1.910, 2.19),
          (2.066, 1.81), (1.978, 1.62), (2.014, 1.62), (2.084, 1.08), (2.102, 1.23), (2.175, 8.65),
          (2.187, 8.77), (2.139, 6.23), (2.160, 6.35), (2.190, 6.35), (2.241, 7.62), (2.277, 9.81),
          (2.286, 10.2), (2.241, 2.31), (2.154, 1.35), (2.175, 1.62), (2.317, 4.04), (2.335, 3.08),
          (2.370, 4.69), (2.373, 3.27), (2.382, 2.96), (2.398, 1.73), (2.422, 1.73), (2.437, 9.69),
          (2.449, 4.42), (2.476, 4.73), (2.48, 2.5), (2.512, 3.0), (2.48, 1.54), (2.558, 5.77),
          (2.566, 6.73), (2.581, 7.12), (2.581, 1.35), (2.542, 0.96), (2.560, 0.96), (2.614, 0.38),
          (2.645, 0.19), (2.681, -0.19), (2.717, -0.58), (2.747, -1.42), (2.787, 3.35), (2.919, -1.15),
          (3.002, -0.96), (1.736, 1.92), (1.767, 1.62), (1.777, 0.46), (1.724, 0.77), (1.829, 1.23),
          (1.835, 0.85), (1.940, 1.08), (2.355, 0.77), (1.835, -1.92), (2.283, -1.65)]

OUT_P6 = [(1.524, 6.85), (1.835, 9.54), (1.955, 10.31), (1.823, 6.23), (1.892, 7.81), (1.989, 7.12),
          (2.039, 8.0), (2.057, 5.77), (2.039, 5.31), (1.931, 3.85), (2.088, 3.77), (2.112, 3.27),
          (2.127, 2.69), (2.127, 2.12), (2.018, 2.38), (1.978, 1.62), (2.064, 2.38), (2.088, 1.73),
          (2.090, 1.35), (1.910, 0.58), (2.014, 0.19), (2.066, 0.38), (2.175, 7.77), (2.187, 7.58),
          (2.139, 5.19), (2.160, 5.38), (2.190, 5.19), (2.241, 6.54), (2.241, 1.08), (2.175, 0.46),
          (2.205, -0.08), (2.277, 8.77), (2.286, 9.04), (2.317, 3.19), (2.335, 1.85), (2.370, 3.46),
          (2.373, 2.12), (2.382, 1.62), (2.398, 0.31), (2.422, 1.08), (2.437, 8.27), (2.449, 3.96),
          (2.476, 3.77), (2.48, 1.65), (2.512, 1.92), (2.482, 0.58), (2.558, 4.62), (2.566, 5.96),
          (2.581, 5.85), (2.581, 0.12), (2.542, -0.27), (2.560, -0.19), (2.614, -0.69), (2.645, -1.08),
          (2.657, -2.04), (2.693, -1.54), (2.723, -1.73), (2.747, -2.31), (2.787, 2.23), (2.919, -2.04),
          (3.002, -2.19), (1.736, 0.96), (1.767, 0.46), (1.777, -0.19), (1.724, -0.46), (1.829, 0.19),
          (1.835, -0.38), (1.940, -0.08), (2.331, -0.19), (1.835, -2.88), (2.283, -2.77), (2.464, -2.5),
          (2.608, -2.38)]

OUT_P7 = [(2.243, 7.04), (2.078, 5.96), (2.48, 5.77), (2.172, 5.19), (2.163, 4.81), (1.907, 4.23),
          (2.07, 4.35), (2.118, 4.23), (2.446, 4.62), (2.458, 4.23), (2.412, 4.19), (2.263, 3.73),
          (2.727, 3.54), (2.054, 3.08), (2.112, 3.15), (1.972, 2.77), (2.301, -5.35), (2.036, -3.65),
          (2.078, -3.77), (2.111, -3.27), (2.251, -3.85), (2.353, -3.58), (2.476, -3.27), (2.558, -3.27),
          (2.582, -3.54), (2.727, -3.27), (2.747, -2.0), (2.919, -2.42), (3.002, -1.65), (2.787, -0.5),
          (2.681, 1.62), (2.717, 1.62), (2.714, 0.77), (2.666, 0.77), (2.618, -0.19), (2.645, -0.77),
          (2.693, -1.73), (2.584, -1.73), (2.614, -2.88), (2.542, 2.69), (2.558, 2.23), (2.572, 1.35),
          (2.566, 0.77), (1.572, 0.85), (1.554, 0.19), (1.524, -0.46), (1.546, -1.73), (1.596, -2.31),
          (1.594, -1.54), (1.62, -1.92), (1.645, 0.85), (1.687, 0.77), (1.669, -1.46), (1.651, -0.19),
          (1.727, 1.23), (1.777, 2.12), (1.793, 2.0), (1.745, -2.69), (1.771, -2.5), (1.837, 1.73),
          (1.880, 1.81), (1.910, 2.31), (1.934, 1.62), (2.018, 2.0), (2.169, 2.88), (2.193, 3.08),
          (2.235, 3.08), (2.283, 2.88), (2.313, 3.08), (2.343, 2.88), (2.370, 3.08), (2.392, 1.73),
          (2.443, 2.62), (2.476, 2.0), (2.512, 1.54), (1.747, -2.69), (1.813, -2.69), (1.922, -2.69),
          (2.175, -3.08), (2.283, -2.88), (2.416, -3.27), (2.512, -2.5)]

OUT_P8 = [(1.524, 7.88), (1.835, 10.58), (1.823, 7.5), (1.892, 9.23), (1.989, 8.35), (2.039, 9.23),
          (2.039, 6.62), (2.057, 6.92), (1.931, 5.12), (2.090, 4.92), (2.112, 4.42), (2.127, 3.27),
          (2.064, 3.92), (2.018, 3.65), (2.082, 3.0), (2.090, 3.27), (1.978, 2.81), (1.910, 2.12),
          (2.066, 1.81), (1.978, 1.54), (2.014, 1.62), (2.084, 1.08), (2.102, 1.23), (2.175, 8.65),
          (2.187, 8.85), (2.139, 6.54), (2.160, 6.54), (2.190, 6.35), (2.241, 7.62), (2.277, 9.81),
          (2.286, 10.3), (2.241, 2.5), (2.154, 1.62), (2.175, 1.92), (2.317, 4.23), (2.335, 3.0),
          (2.370, 4.92), (2.373, 3.27), (2.382, 2.96), (2.398, 1.85), (2.422, 1.73), (2.437, 9.69),
          (2.449, 4.54), (2.476, 4.92), (2.48, 2.69), (2.512, 3.15), (2.48, 1.85), (2.558, 5.85),
          (2.566, 6.85), (2.581, 7.19), (2.581, 1.54), (2.542, 1.08), (2.560, 1.23), (2.614, 0.58),
          (2.645, 0.31), (2.681, -0.19), (2.717, -0.38), (2.747, -0.96), (2.787, 3.58), (2.919, -0.96),
          (3.002, -0.96), (1.736, 2.31), (1.767, 1.73), (1.777, 0.69), (1.724, 0.85), (1.829, 1.73),
          (1.835, 1.23), (1.940, 1.23), (1.952, 1.73), (2.355, 0.85), (2.295, 0.38), (2.235, 0.58)]

BANDS = [[BAND_P1, BAND_P1B], [BAND_P2, BAND_P2B], [BAND_P3, BAND_P3B], [BAND_P4, BAND_P4B],
         [BAND_P5, BAND_P5B], [BAND_P6, BAND_P6B], [BAND_P7A, BAND_P7B, BAND_P7C],
         [BAND_P8, BAND_P8B]]
OUTS = [OUT_P1, OUT_P2, OUT_P3, OUT_P4, OUT_P5, OUT_P6, OUT_P7, OUT_P8]

# fitted lines: intercept / slope (dashed = robust fit, dotted = least squares)
DASH_A = [-2.0, -1.42, -1.08, -0.88, -0.85, -2.1, -0.88, -1.237]
DASH_B = [0.0, 0.0, 0.0, 0.0, 0.0, 0.0, 0.0, 0.127]
DOT_A = [-5.86, -5.51, -4.92, -4.96, -4.84, -6.22, -1.6, -4.83]
DOT_B = [2.25, 2.6, 2.15, 2.2, 2.35, 2.45, 0.4, 2.37]

MS = 58
FIG_PX = 1200
fig = plt.figure(figsize=(12, 12), dpi=100)
for i in range(8):
    r, c = divmod(i, 2)
    ax = fig.add_axes([(119 + 600 * c) / FIG_PX, 1 - (180 + 300 * r) / FIG_PX,
                       441 / FIG_PX, 141 / FIG_PX])
    for by in BANDS[i]:
        n = min(len(BAND_X), len(by))
        ax.scatter(BAND_X[:n], by[:n], s=MS, c='black', linewidths=0, zorder=2)
    ox = [p[0] for p in OUTS[i]]
    oy = [p[1] for p in OUTS[i]]
    ax.scatter(ox, oy, s=MS, c='black', linewidths=0, zorder=2)
    ax.axline((0, DASH_A[i]), slope=DASH_B[i], color='black', lw=2.2,
              linestyle=(0, (13, 7)), zorder=3)
    ax.axline((0, DOT_A[i]), slope=DOT_B[i], color='black', lw=2.2,
              linestyle=(0, (6, 6)), zorder=3)
    ax.set_xlim(1.466, 3.058)
    ax.set_ylim(-5.58, 10.69)
    ax.set_xticks(XTICKS)
    ax.set_xticklabels(XTICKLABELS)
    ax.set_yticks(YTICKS)
    ax.set_yticklabels(YTICKLABELS)
    for sp in ax.spines.values():
        sp.set_linewidth(1.7)
    ax.tick_params(axis='both', direction='out', length=13, width=1.7, labelsize=23)
    ax.tick_params(axis='x', pad=22)
    ax.tick_params(axis='y', pad=4)
    for lbl in ax.get_yticklabels():
        lbl.set_rotation(90)
        lbl.set_va('center')
        lbl.set_ha('right')
    ax.set_xlabel(XLABEL, fontsize=23)
    ax.xaxis.set_label_coords(0.5, -0.58)
    ax.set_ylabel(YLABEL, fontsize=23, va='center')
    ax.yaxis.set_label_coords(-0.2245, 0.5)
    ax.text(0.5, 1.057, TITLES[i], transform=ax.transAxes, ha='center',
            va='baseline', fontsize=27)

fig.savefig('out.png', dpi=100)
